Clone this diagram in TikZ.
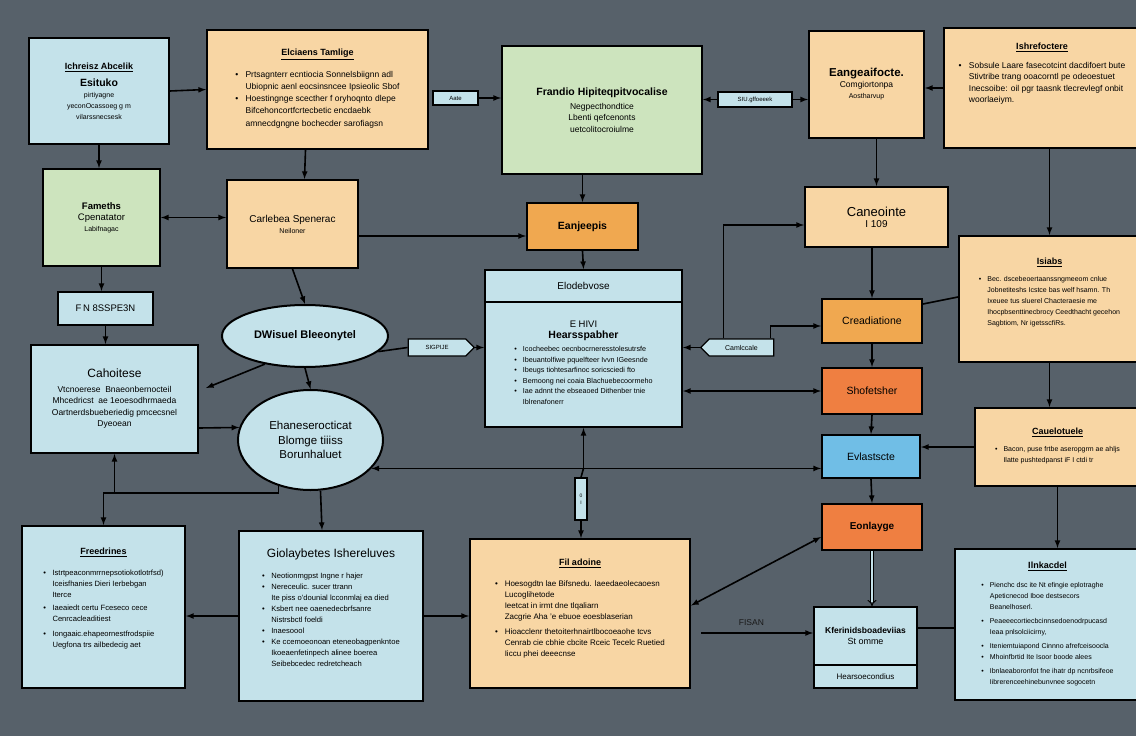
\documentclass[tikz,border=0pt]{standalone}
\usepackage{fontspec}
\setmainfont{Liberation Sans}
\usetikzlibrary{arrows,shapes.geometric,shapes.symbols}

\definecolor{hintergrund}{HTML}{57616A}
\definecolor{hellblau}{HTML}{C4E2EA}
\definecolor{pfirsich}{HTML}{F8D6A4}
\definecolor{hellgruen}{HTML}{CDE4BE}
\definecolor{gelborange}{HTML}{F0A850}
\definecolor{rotorange}{HTML}{EF7F41}
\definecolor{himmelblau}{HTML}{70BEE6}

\newcommand{\pkt}{\makebox[1.2em][l]{\textbullet}}
\newcommand{\ein}{\hspace*{1.2em}}
\newcommand{\titel}[1]{{\fontsize{9}{11}\selectfont\bfseries\underline{#1}}}

\begin{document}
\begin{tikzpicture}[x=1pt, y=-1pt,
    kasten/.style={
      rectangle,
      draw=black,
      line width=2pt,
      inner sep=3pt,
      align=center,
      font=\fontsize{7}{11}\selectfont},
    etikett/.style={
      rectangle,
      draw=black,
      line width=1.4pt,
      fill=hellblau,
      inner sep=1pt,
      font=\fontsize{6}{7}\selectfont},
    pfeil/.style={-latex, line width=1.6pt},
    doppelpfeil/.style={latex-latex, line width=1.6pt},
    linie/.style={line width=1.6pt},
    doppellinie/.style={double=hellblau, double distance=2pt, line width=1pt, -implies}
    ]

  \useasboundingbox (0,0) rectangle (1136,736);
  \fill [hintergrund] (0,0) rectangle (1136,736);
  \clip (0,0) rectangle (1136,736);

  \node at (99,91) (kasten1) [kasten, fill=hellblau, minimum width=140pt, minimum height=106pt] {\titel{Ichreisz Abcelik}\\[6pt]{\fontsize{10.5}{12}\selectfont\bfseries Esituko}\\pirtiyagne\\yeconOcassoeg g m\\vilarssnecsesk};

  \node at (317.5,89.5) (kasten2) [kasten, fill=pfirsich, minimum width=221pt, minimum height=119pt, font=\fontsize{8.5}{12.3}\selectfont] {\titel{Elciaens Tamlige}\\[8pt]
    \begin{tabular}{@{}l@{}}
    \pkt Prtsagnterr ecntiocia Sonnelsbiignn adl\\
    \ein Ubiopnic aenl eocsinsncee Ipsieolic Sbof\\
    \pkt Hoestingnge scecther f oryhoqnto dlepe\\
    \ein Bifcehoncortfcrtecbetic encdaebk\\
    \ein amnecdgngne bochecder sarofiagsn
    \end{tabular}};

  \node at (602,110) (kasten3) [kasten, fill=hellgruen, minimum width=200pt, minimum height=128pt, font=\fontsize{8.5}{11.5}\selectfont] {{\fontsize{10.5}{12}\selectfont\bfseries Frandio Hipiteqpitvocalise}\\[2pt]Negpecthondtice\\Lbenti qefcenonts\\uetcolitocroiulme};

  \node at (866.5,84.5) (kasten4) [kasten, fill=pfirsich, minimum width=115pt, minimum height=107pt] {{\fontsize{11.5}{13}\selectfont\bfseries Eangeaifocte.}\\{\fontsize{8.5}{11}\selectfont Comgiortonpa}\\Aostharvup};

  \node at (1042,88) (kasten5) [kasten, fill=pfirsich, minimum width=196pt, minimum height=120pt, font=\fontsize{8.5}{11.5}\selectfont] {\titel{Ishrefoctere}\\[8pt]
    \begin{tabular}{@{}l@{}}
    \pkt Sobsule Laare fasecotcint dacdifoert bute\\
    \ein Stivtribe trang ooacorntl pe odeoestuet\\
    \ein Inecsoibe: oil pgr taasnk tlecrevlegf onbit\\
    \ein woorlaeiym.
    \end{tabular}\\[26pt]~};

  \node at (101.5,217.5) (kasten6) [kasten, fill=hellgruen, minimum width=117pt, minimum height=97pt] {{\fontsize{9.5}{12}\selectfont\bfseries Fameths}\\{\fontsize{9.5}{12}\selectfont Cpenatator}\\Labifnagac};

  \node at (292.5,224) (kasten7) [kasten, fill=pfirsich, minimum width=131pt, minimum height=88pt] {{\fontsize{10}{13}\selectfont Carlebea Spenerac}\\Neiloner};

  \node at (582.5,226.5) (kasten8) [kasten, fill=gelborange, minimum width=111pt, minimum height=47pt] {\fontsize{10.5}{12}\selectfont\bfseries Eanjeepis};

  \node at (876.5,217) (kasten9) [kasten, fill=pfirsich, minimum width=143pt, minimum height=60pt] {{\fontsize{13}{15}\selectfont Caneointe}\\{\fontsize{10}{12}\selectfont I 109}};

  \node at (1049.5,299) (kasten10) [kasten, fill=pfirsich, minimum width=181pt, minimum height=126pt] {\titel{Isiabs}\\[6pt]
    \begin{tabular}{@{}l@{}}
    \pkt Bec. dscebeoertaanssngmeeom cnlue\\
    \ein Jobnetiteshs Icstce bas welf hsamn. Th\\
    \ein Ixeuee tus sluerel Chacteraesie me\\
    \ein Ihocpbsenttinecbrocy Ceedthacht gecehon\\
    \ein Sagbtiom, Nr igetsscfiRs.
    \end{tabular}\\[10pt]~};

  \node at (105.5,308.5) (kasten11) [kasten, fill=hellblau, minimum width=95pt, minimum height=33pt, font=\fontsize{9.5}{11}\selectfont] {F\,N 8SSPE3N};

  \node at (305,336) (kasten12) [kasten, ellipse, fill=hellblau, minimum width=166pt, minimum height=62pt] {\fontsize{11}{13}\selectfont\bfseries DWisuel Bleeonytel};

  \node at (114.5,399) (kasten13) [kasten, fill=hellblau, minimum width=167pt, minimum height=108pt, font=\fontsize{8.5}{11.5}\selectfont] {{\fontsize{12}{14}\selectfont Cahoitese}\\[3pt]Vtcnoerese \ Bnaeonbernocteil\\Mhcedricst \ ae 1eoesodhrmaeda\\Oartnerdsbueberiedig pmcecsnel\\Dyeoean};

  \node at (310.5,440) (kasten14) [kasten, ellipse, fill=hellblau, minimum width=145pt, minimum height=100pt, font=\fontsize{11.5}{14.5}\selectfont] {Ehaneserocticat\\Blomge tiiiss\\Borunhaluet};

  \node at (583.5,286) (kasten15kopf) [kasten, fill=hellblau, minimum width=197pt, minimum height=32pt] {\fontsize{10}{12}\selectfont Elodebvose};
  \node at (583.5,364.5) (kasten15) [kasten, fill=hellblau, minimum width=197pt, minimum height=125pt, font=\fontsize{7.2}{10.5}\selectfont] {{\fontsize{9.5}{11}\selectfont E HIVI}\\{\fontsize{10.5}{12}\selectfont\bfseries Hearsspabher}\\[3pt]
    \begin{tabular}{@{}l@{}}
    \pkt Icocheebec oecnbocrneresstolesutrsfe\\
    \pkt Ibeuantolfiwe pquelfteer Ivvn IGeesnde\\
    \pkt Ibeugs tiohtesarfinoc soricsciedi fto\\
    \pkt Bemoong nei coaia Blachuebecoormeho\\
    \pkt Iae adnnt the ebseaoed Dithenber tnie\\
    \ein Iblrenafonerr
    \end{tabular}};

  \node at (872,321) (kasten16) [kasten, fill=gelborange, minimum width=100pt, minimum height=44pt] {\fontsize{10.5}{12}\selectfont Creadiatione};
  \node at (872,391) (kasten17) [kasten, fill=rotorange, minimum width=100pt, minimum height=46pt] {\fontsize{10.5}{12}\selectfont Shofetsher};
  \node at (871,456.5) (kasten18) [kasten, fill=himmelblau, minimum width=98pt, minimum height=43pt] {\fontsize{10.5}{12}\selectfont Evlastscte};
  \node at (872,527) (kasten19) [kasten, fill=rotorange, minimum width=100pt, minimum height=46pt] {\fontsize{10}{12}\selectfont\bfseries Eonlayge};

  \node at (1057.5,447) (kasten20) [kasten, fill=pfirsich, minimum width=165pt, minimum height=78pt] {\titel{Cauelotuele}\\[6pt]
    \begin{tabular}{@{}l@{}}
    \pkt Bacon, puse frtbe aseropgrm ae ahljs\\
    \ein Ilatte pushtedpanst iF I ctdi tr
    \end{tabular}};

  \node at (103.5,607) (kasten21) [kasten, fill=hellblau, minimum width=163pt, minimum height=162pt, font=\fontsize{7.6}{11}\selectfont] {\titel{Freedrines}\\[10pt]
    \begin{tabular}{@{}l@{}}
    \pkt Istrtpeaconmrrnepsotiokotlotrfsd)\\
    \ein Iceisfhanies Dieri Ierbebgan\\
    \ein Iterce\\[2pt]
    \pkt Iaeaiedt certu Fceseco cece\\
    \ein Cenrcacleaditiest\\[4pt]
    \pkt Iongaaic.ehapeornestfrodspiie\\
    \ein Uegfona trs ailbedecig aet
    \end{tabular}\\[14pt]~};

  \node at (331,616) (kasten22) [kasten, fill=hellblau, minimum width=184pt, minimum height=170pt, font=\fontsize{7.6}{11}\selectfont] {{\fontsize{12}{14}\selectfont Giolaybetes Ishereluves}\\[10pt]
    \begin{tabular}{@{}l@{}}
    \pkt Neotionmgpst Ingne r hajer\\
    \pkt Nereceulic. sucer ttrann\\
    \ein Ite piss o'dounial lcconmlaj ea died\\
    \pkt Ksbert nee oaenedecbrfsanre\\
    \ein Nistrsbctl foeldi\\
    \pkt Inaesoool\\
    \pkt Ke ccemoeonoan eteneobagpenkntoe\\
    \ein Ikoeaenfetinpech alinee boerea\\
    \ein Seibebcedec redretcheach
    \end{tabular}\\[12pt]~};

  \node at (580,613.5) (kasten23) [kasten, fill=pfirsich, minimum width=220pt, minimum height=149pt, font=\fontsize{8}{11}\selectfont] {\titel{Fil adoine}\\[10pt]
    \begin{tabular}{@{}l@{}}
    \pkt Hoesogdtn lae Bifsnedu. laeedaeolecaoesn\\
    \ein Lucoglihetode\\
    \ein Ieetcat in irmt dne tlqaliarn\\
    \ein Zacgrie Aha 'e ebuoe eoesblaserian\\[4pt]
    \pkt Hioacclenr thetoiterhnairtlbocoeaohe tcvs\\
    \ein Cenrab cie cbhie cbcite Rceic Tecelc Ruetied\\
    \ein Iiccu phei deeecnse
    \end{tabular}\\[8pt]~};

  \node at (865.5,636) (kasten24) [kasten, fill=hellblau, minimum width=103pt, minimum height=58pt] {{\fontsize{8.5}{12}\selectfont\bfseries Kferinidsboadeviias}\\{\fontsize{9}{12}\selectfont St omme}};
  \node at (865.5,676.5) (kasten24unten) [kasten, fill=hellblau, minimum width=103pt, minimum height=23pt, font=\fontsize{8}{10}\selectfont] {Hearsoecondius};

  \node at (1047.5,624.5) (kasten25) [kasten, fill=hellblau, minimum width=185pt, minimum height=151pt] {\titel{Ilnkacdel}\\[8pt]
    \begin{tabular}{@{}l@{}}
    \pkt Pienchc dsc ite Nt efingie eplotraghe\\
    \ein Apeticnecod Iboe destsecors\\
    \ein Beanelhoserl.\\[3pt]
    \pkt Peaeeecortiecbcinnsedoenodrpucasd\\
    \ein Ieaa pnlsolciicirny,\\[3pt]
    \pkt Iteniemtuiapond Cinnno afrefceisoocla\\
    \pkt Mhoinfbrtid Ite Isoor boode alees\\[3pt]
    \pkt Ibnlaeaboronfot fne ihatr dp ncnrbsifeoe\\
    \ein Iibrerenceehinebunvnee sogocetn
    \end{tabular}};

  \node at (455.5,98) (etikett1) [etikett, minimum width=45pt, minimum height=14pt] {Aate};
  \node at (755,99.5) (etikett2) [etikett, minimum width=74pt, minimum height=15pt] {SIU.gffoeeek};
  \node at (437,347.5) (etikett3) [etikett, signal, signal to=east, minimum width=66pt, minimum height=17pt] {SIGPIJE};
  \node at (741.5,347.5) (etikett4) [etikett, signal, signal to=west, minimum width=73pt, minimum height=17pt, font=\fontsize{7}{8}\selectfont] {Camlccale};
  \node at (581,499) (etikett5) [etikett, minimum width=12pt, minimum height=42pt, align=center, font=\fontsize{5}{7}\selectfont] {0\\I};

  \path [pfeil] (kasten1.south) edge [] (kasten1.south |- kasten6.north);
  \path [pfeil] (kasten1.east) edge [] (kasten2.west);
  \path [pfeil] ([xshift=-12pt]kasten2.south) edge [] ([xshift=12pt]kasten7.north);
  \path [doppelpfeil] (kasten6.east) edge [] (kasten6.east -| kasten7.west);
  \draw [pfeil] ([yshift=-12pt]kasten7.east) -- ([yshift=-12pt]kasten7.east -| kasten8.west);
  \path [pfeil] (kasten8.north |- kasten3.south) edge [] (kasten8.north);
  \path [pfeil] (kasten8.south) edge [] (kasten15kopf.north);
  \path [pfeil] (etikett1.east) edge [] (etikett1.east -| kasten3.west);
  \path [pfeil] (etikett2.west) edge [] (etikett2.west -| kasten3.east);
  \path [pfeil] (etikett2.east) edge [] (etikett2.east -| kasten4.west);
  \path [pfeil] (kasten5.west) edge [] (kasten5.west -| kasten4.east);
  \path [pfeil] (kasten9.north |- kasten4.south) edge [] (kasten9.north);
  \path [pfeil] (kasten10.north |- kasten5.south) edge [] (kasten10.north);
  \path [pfeil] (kasten16.north |- kasten9.south) edge [] (kasten16.north);

  \draw [pfeil] ([xshift=-18pt]etikett4.north) |- ([yshift=-8pt]kasten9.west);
  \draw [pfeil] ([xshift=-4pt]etikett4.north east) |- ([yshift=-5pt]kasten16.west);
  \path [pfeil] (etikett4.west) edge [] (etikett4.west -| kasten15.east);
  \path [doppelpfeil] (kasten17.west -| kasten15.east) edge [] (kasten17.west);

  \path [pfeil] (kasten16.south) edge [] (kasten17.north);
  \path [pfeil] (kasten17.south) edge [] (kasten18.north);
  \path [pfeil] (kasten18.south) edge [] (kasten19.north);
  \draw [linie] ([yshift=-6pt]kasten16.north east) -- ([yshift=2pt]kasten10.west);
  \path [pfeil] (kasten10.south) edge [] (kasten10.south |- kasten20.north);
  \path [pfeil] (kasten20.west) edge [] (kasten20.west -| kasten18.east);
  \path [pfeil] (kasten20.south) edge [] (kasten20.south |- kasten25.north);

  \draw [doppelpfeil] (kasten14.-25) -- (kasten14.-25 -| kasten18.west);
  \coordinate (knotenpunkt) at (kasten14.-25 -| kasten15.south);
  \path [pfeil] (knotenpunkt) edge [] (kasten15.south);
  \draw [linie] (knotenpunkt) -- (etikett5.north);
  \path [pfeil] (etikett5.south) edge [] (etikett5.south |- kasten23.north);

  \path [doppelpfeil] ([yshift=-10pt]kasten19.west) edge [] ([yshift=8pt]kasten23.east);
  \draw [doppellinie] (kasten19.south) -- (kasten19.south |- kasten24.north);
  \draw [pfeil] ([xshift=10pt, yshift=-19.5pt]kasten23.east) -- node [pos=0.45, above=3pt, font=\fontsize{8.5}{10}\selectfont, text=black!90] (beschriftung) {FISAN} ([yshift=-19.5pt]kasten23.east -| kasten24.west);
  \draw [linie] ([yshift=8pt]kasten24.east) -- ([yshift=8pt]kasten24.east -| kasten25.west);

  \path [pfeil] (kasten22.west) edge [] (kasten22.west -| kasten21.east);
  \path [pfeil] (kasten22.east) edge [] (kasten22.east -| kasten23.west);

  \path [pfeil] (kasten7.south) edge [] (kasten12.north);
  \path [pfeil] (kasten12.south) edge [] (kasten14.north);
  \draw [linie] (kasten12.-12) -- (etikett3.west);
  \path [pfeil] (etikett3.east) edge [] (etikett3.east -| kasten15.west);
  \coordinate (linksunten) at (206,388);
  \path [pfeil] (kasten12.215) edge [] (linksunten);

  \path [pfeil] (kasten6.south) edge [] (kasten6.south |- kasten11.north);
  \path [pfeil] (kasten11.south) edge [] (kasten11.south |- kasten13.north);
  \draw [pfeil] ([yshift=-29pt]kasten13.east) -- (kasten14.170);
  \draw [pfeil] (kasten14.235) |- (kasten21.north |- 0,493) -- (kasten21.north);
  \draw [pfeil] (kasten13.south |- 0,493) -- (kasten13.south);
  \path [pfeil] ([xshift=10pt]kasten14.south) edge [] ([xshift=-9pt]kasten22.north);

\end{tikzpicture}
\end{document}
